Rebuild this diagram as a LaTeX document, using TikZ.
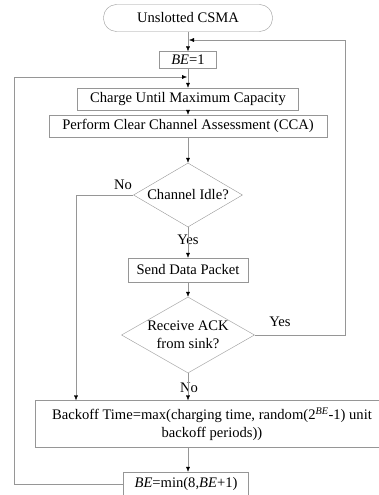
\documentclass[tikz,border=0pt]{standalone}
\usepackage{fontspec}
\setmainfont{Liberation Serif}
\usetikzlibrary{shapes.geometric,arrows.meta}
\definecolor{linegray}{RGB}{150,150,150}
\begin{document}
\begin{tikzpicture}[x=1pt, y=-1pt,
        every node/.style = {font=\fontsize{14.6}{17.5}\selectfont, align=center},
        term/.style = {shape=rectangle, rounded corners=13pt, draw=linegray,
        minimum width=169pt, minimum height=27pt},
        box/.style = {shape=rectangle, draw=linegray, inner sep=1pt},
        dec/.style = {shape=diamond, draw=linegray, inner sep=-2pt, aspect=1.7},
        line/.style = {draw=linegray, -{Latex[color=black,length=5pt,width=4pt]}},
        lbl/.style = {inner sep=0pt}]
    \useasboundingbox (0,0) rectangle (379,495);
    \node[term] (start) at (188,18) {Unslotted CSMA};
    \node[box, minimum width=57pt, minimum height=17pt] (be1) at (188,60) {\textit{BE}=1};
    \node[box, minimum width=221pt, minimum height=22pt] (charge) at (188,99) {Charge Until Maximum Capacity};
    \node[box, minimum width=278pt, minimum height=22pt] (cca) at (188,126) {Perform Clear Channel Assessment (CCA)};
    \node[dec, minimum width=109pt, minimum height=64pt] (idle) at (188,195) {Channel Idle?};
    \node[box, minimum width=120pt, minimum height=24pt] (send) at (188,270) {Send Data Packet};
    \node[dec, minimum width=133pt, minimum height=76pt] (ack) at (188,335) {Receive ACK\\from sink?};
    \node[box, minimum width=354pt, minimum height=47pt] (backoff) at (212,424)
        {Backoff Time=max(charging time, random(2\textsuperscript{\textit{BE}}-1) unit\\backoff periods))};
    \node[box, minimum width=125pt, minimum height=24pt] (bemin) at (186,484) {\textit{BE}=min(8,\textit{BE}+1)};
    % labels
    \node[lbl] (idleno) at (123,185) {No};
    \node[lbl] (idleyes) at (188,240) {Yes};
    \node[lbl] (ackyes) at (280,322) {Yes};
    \node[lbl] (ackno) at (189,388) {No};
    % joins
    \coordinate (rjoin) at (189,40);
    \coordinate (ljoin) at (187,77);
    % connectors
    \draw[line] (start) -- (be1);
    \draw[line] (be1) -- (charge);
    \draw[line] (charge) -- (cca);
    \draw[line] (cca) -- (idle);
    \draw[line] (idle) -- (send);
    \draw[line] (send) -- (ack);
    \draw[line] (ack.south) -- (ack.south |- backoff.north);
    \draw[line] (idle.west) -| (76,0 |- backoff.north);
    \draw[line] (backoff.south -| start) -- (bemin.north -| start);
    \draw[line] (ack.east) -- ++(90,0) |- (rjoin);
    \draw[line] (bemin.west) -- ++(-109,0) |- (ljoin);
\end{tikzpicture}
\end{document}
